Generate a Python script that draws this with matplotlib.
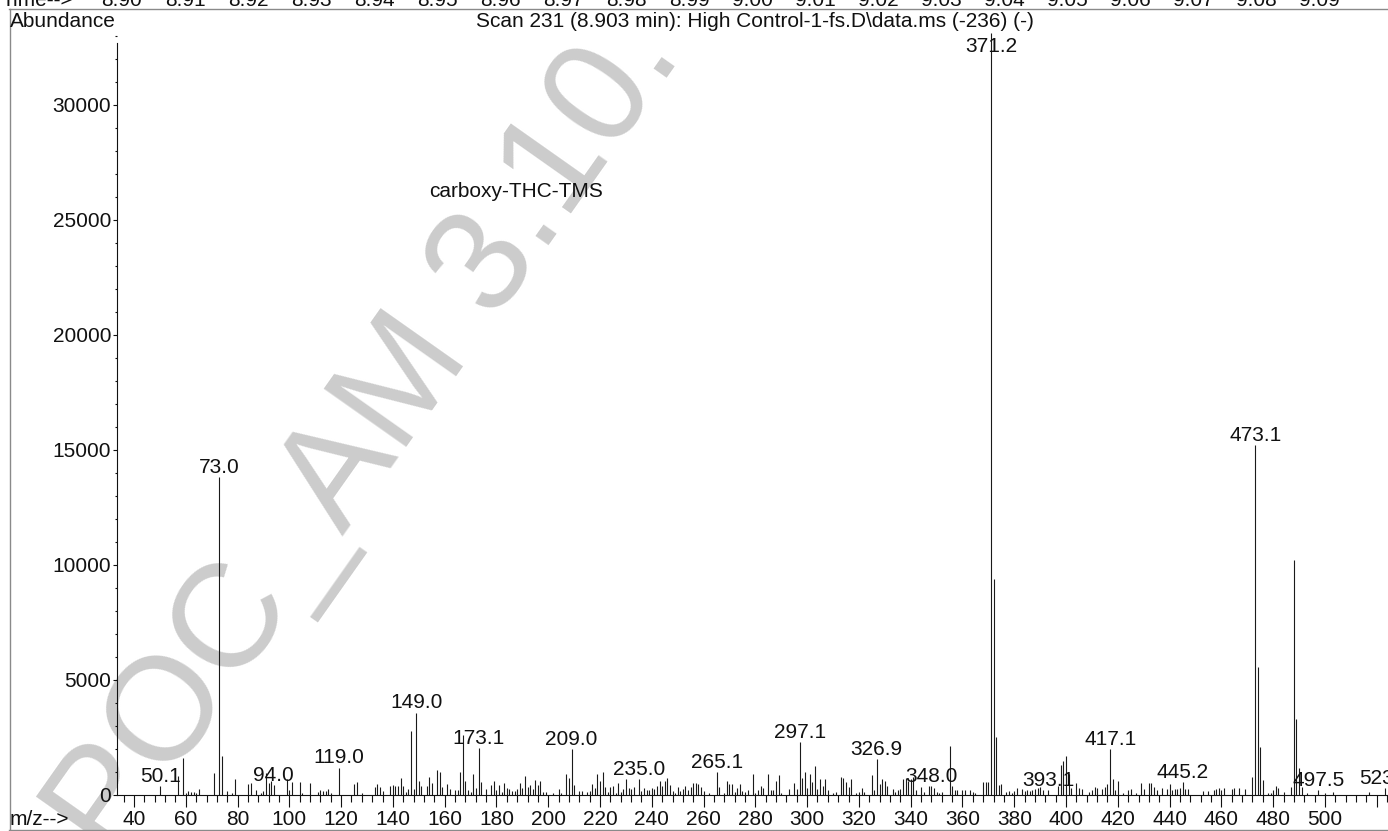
import matplotlib
matplotlib.use("Agg")
import matplotlib.pyplot as plt
from matplotlib.ticker import MultipleLocator, FixedLocator, FixedFormatter
from matplotlib.lines import Line2D

# ---------------- data ----------------
mz = [50.1, 57, 59, 60, 61, 62, 63, 64, 65, 71, 73.0, 74, 76, 78, 79, 84, 85, 87, 89, 90,
      91, 92, 93, 94.0, 99, 100, 101, 104, 105, 108, 111, 112, 113, 114, 115, 116, 119.0,
      125, 126, 128, 133, 134, 135, 136, 139, 140, 141, 142, 143, 144, 145, 146, 147, 148,
      149.0, 150, 151, 153, 154, 155, 157, 158, 159, 161, 162, 164, 165, 166, 167, 168, 169,
      170, 171, 172, 173.1, 174, 176, 178, 179, 180, 181, 182, 183, 184, 185, 186, 187, 188,
      189, 190, 191, 192, 193, 194, 195, 196, 197, 198, 199, 202, 204, 205, 207, 208, 209.0,
      210, 212, 213, 215, 216, 217, 218, 219, 220, 221, 222, 223, 224, 225, 226, 227, 228,
      229, 230, 231, 232, 233, 235.0, 236, 237, 238, 239, 240, 241, 242, 243, 244, 245, 246,
      247, 248, 249, 250, 251, 252, 253, 254, 255, 256, 257, 258, 259, 260, 262, 265.1, 266,
      268, 269, 270, 271, 272, 273, 274, 275, 276, 277, 279, 280, 281, 282, 283, 285, 286,
      287, 288, 289, 290, 293, 295, 296, 297.1, 298, 299, 300, 301, 302, 303, 304, 305, 306,
      307, 308, 310, 311, 313, 314, 315, 316, 317, 319, 320, 321, 322, 325, 326, 326.9, 328,
      329, 330, 331, 333, 334, 335, 336, 337, 338, 339, 340, 341, 342, 344, 345, 347, 348.0,
      349, 350, 351, 352, 355, 356, 357, 358, 360, 361, 363, 364, 365, 368, 369, 370, 371.2,
      372, 373, 374, 375, 377, 378, 379, 380, 381, 383, 384, 385, 386, 387, 388, 389, 390,
      391, 393.1, 397, 398, 399, 400, 401, 402, 404, 405, 406, 409, 410, 411, 412, 414, 415,
      416, 417.1, 418, 419, 420, 422, 424, 425, 427, 429, 430, 432, 433, 434, 435, 437, 439,
      440, 441, 442, 443, 444, 445.2, 446, 447, 453, 455, 457, 458, 459, 460, 461, 464, 465,
      467, 469, 472, 473.1, 474, 475, 476, 478, 479, 480, 481, 482, 484, 487, 488, 489, 490,
      491, 493, 497.5, 500, 503, 517, 523.2]

abundance = [390, 830, 1620, 100, 190, 150, 130, 100, 250, 940, 13810, 1710, 170, 100, 680, 460, 510, 220, 100, 170,
             940, 540, 620, 420, 680, 220, 550, 570, 100, 540, 150, 220, 190, 190, 250, 100, 1190,
             480, 580, 100, 360, 460, 360, 170, 380, 430, 400, 400, 750, 400, 150, 260, 2780, 260,
             3580, 620, 400, 400, 770, 540, 1100, 1010, 360, 480, 250, 200, 200, 1000, 2590, 610, 220,
             150, 910, 300, 2030, 550, 260, 420, 620, 220, 430, 120, 540, 290, 250, 160, 170, 250,
             510, 320, 830, 360, 430, 250, 650, 430, 610, 120, 140, 80, 250, 100, 900, 720, 1990,
             420, 170, 170, 130, 170, 460, 320, 910, 610, 990, 330, 140, 360, 390, 100, 540, 140,
             250, 680, 300, 250, 350, 700, 170, 290, 220, 200, 290, 260, 390, 620, 390, 590, 750,
             420, 190, 100, 350, 170, 260, 390, 200, 350, 540, 510, 460, 360, 170, 70, 990, 330,
             70, 610, 460, 460, 140, 290, 490, 170, 140, 220, 930, 100, 220, 390, 290, 900, 220,
             220, 610, 870, 100, 250, 510, 250, 2290, 720, 990, 320, 910, 580, 1260, 250, 700, 390,
             700, 220, 100, 140, 780, 750, 580, 360, 680, 100, 140, 290, 140, 870, 220, 1570, 480,
             680, 620, 390, 260, 140, 220, 280, 710, 720, 620, 700, 800, 220, 340, 140, 390, 380,
             310, 140, 100, 140, 2140, 410, 220, 220, 200, 220, 220, 140, 100, 560, 570, 560, 33130,
             9400, 2520, 430, 470, 140, 170, 100, 190, 320, 250, 190, 200, 190, 230, 260, 290, 330,
             220, 200, 390, 1300, 1480, 1700, 910, 300, 540, 290, 250, 140, 220, 330, 290, 250, 360,
             460, 2000, 680, 220, 610, 70, 220, 250, 70, 540, 250, 510, 510, 360, 220, 290, 280,
             460, 220, 250, 280, 290, 570, 250, 250, 190, 170, 220, 250, 290, 220, 290, 250, 290,
             290, 250, 780, 15220, 5570, 2090, 650, 70, 70, 220, 390, 290, 140, 350, 10220, 3300, 1170,
             360, 100, 220, 100, 140, 150, 300]

label_mz = [50.1, 73.0, 94.0, 119.0, 149.0, 173.1, 209.0, 235.0, 265.1, 297.1, 326.9,
            348.0, 371.2, 393.1, 417.1, 445.2, 473.1, 497.5, 523.2]
label_text = ["50.1", "73.0", "94.0", "119.0", "149.0", "173.1", "209.0", "235.0", "265.1",
              "297.1", "326.9", "348.0", "371.2", "393.1", "417.1", "445.2", "473.1", "497.5", "523.2"]

x_major = list(range(40, 521, 20))
x_major_labels = [str(v) for v in x_major[:-1]] + [""]
time_labels = ["8.90", "8.91", "8.92", "8.93", "8.94", "8.95", "8.96", "8.97", "8.98", "8.99",
               "9.00", "9.01", "9.02", "9.03", "9.04", "9.05", "9.06", "9.07", "9.08", "9.09"]

title = "Scan 231 (8.903 min): High Control-1-fs.D\\data.ms (-236) (-)"
compound = "carboxy-THC-TMS"
watermark = "POC_AM 3.10."

# ---------------- figure ----------------
plt.rcParams['font.family'] = ['Liberation Sans', 'DejaVu Sans']
W, H = 1388, 831
fig = plt.figure(figsize=(W / 100, H / 100), dpi=100)
fig.patch.set_facecolor('white')

def fx(px):
    return px / W

def fy(py):
    return 1 - py / H

FS = 15

ax = fig.add_axes([fx(117), fy(795), fx(1388) - fx(117), (795 - 33) / H])
ax.set_facecolor('none')
ymax = 33130
ax.set_xlim(33.43, 524.36)
ax.set_ylim(0, ymax)

ax.vlines(mz, 0, abundance, colors='#1a1a1a', linewidth=0.8)

# peak labels
lookup = dict(zip(mz, abundance))
for m, t in zip(label_mz, label_text):
    yv = min(lookup[m], 0.97 * ymax)
    ax.annotate(t, xy=(m, yv), xytext=(0, 3), textcoords='offset points',
                ha='center', va='baseline', fontsize=FS, color='#111111',
                annotation_clip=False)

ax.text(187.5, 26000, compound, ha='center', va='baseline', fontsize=FS, color='#111111')

# spines and ticks
for s in ['top', 'right']:
    ax.spines[s].set_visible(False)
ax.spines['left'].set_bounds(0, 32700)
for s in ['left', 'bottom']:
    ax.spines[s].set_linewidth(0.8)
    ax.spines[s].set_color('#111111')

ax.xaxis.set_major_locator(FixedLocator(x_major))
ax.xaxis.set_major_formatter(FixedFormatter(x_major_labels))
ax.xaxis.set_minor_locator(MultipleLocator(4))
ax.yaxis.set_major_locator(MultipleLocator(5000))
ax.yaxis.set_minor_locator(MultipleLocator(1000))
ax.tick_params(axis='x', which='major', direction='out', length=8.6, width=0.8,
               pad=2.0, labelsize=FS, colors='#111111')
ax.tick_params(axis='x', which='minor', direction='out', length=5, width=0.8, colors='#111111')
ax.tick_params(axis='y', which='major', direction='out', length=2.8, width=0.8,
               pad=1.5, labelsize=FS, colors='#111111')
ax.tick_params(axis='y', which='minor', direction='out', length=1.4, width=0.8, colors='#111111')

# header texts
fig.text(fx(10), fy(27), "Abundance", ha='left', va='baseline', fontsize=FS, color='#111111')
fig.text(fx(755), fy(27), title, ha='center', va='baseline', fontsize=FS, color='#111111')
fig.text(fx(10), fy(825), "m/z-->", ha='left', va='baseline', fontsize=FS, color='#111111')

# top (cut off) time ruler
fig.text(fx(2), fy(6), "Time-->", ha='left', va='baseline', fontsize=FS, color='#111111')
for i, t in enumerate(time_labels):
    fig.text(fx(122 + 63 * i), fy(6), t, ha='center', va='baseline', fontsize=FS, color='#111111')

# frame lines
fc = '#8a8a8a'
fig.add_artist(Line2D([fx(9), fx(1388)], [fy(8.5), fy(8.5)], transform=fig.transFigure, color=fc, lw=1))
fig.add_artist(Line2D([fx(9.5), fx(9.5)], [fy(8.5), fy(831)], transform=fig.transFigure, color=fc, lw=1))
fig.add_artist(Line2D([fx(9), fx(1388)], [fy(829.5), fy(829.5)], transform=fig.transFigure, color=fc, lw=1))

# watermark (behind the spectrum)
fig.text(fx(367), fy(438), watermark, rotation=54.8, rotation_mode='anchor',
         ha='center', va='center', fontsize=106, color='#cccccc', zorder=-1)

fig.savefig("out.png", dpi=100)
